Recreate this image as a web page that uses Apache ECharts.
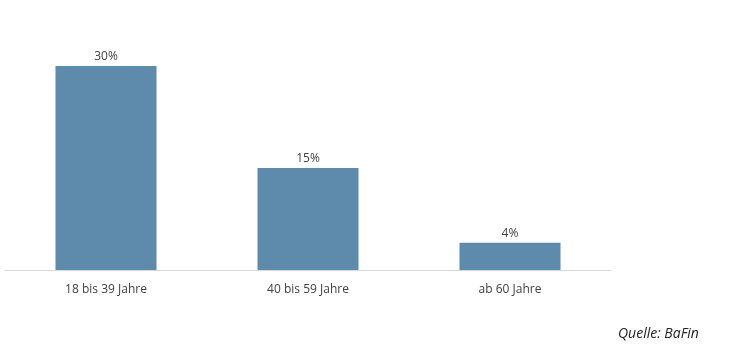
<!DOCTYPE html>
<html><head><meta charset="utf-8">
<script src="https://cdn.jsdelivr.net/npm/echarts@6/dist/echarts.min.js"></script>
<style>html,body{margin:0;padding:0;background:#fff}#c{width:742px;height:363px}</style>
</head><body><div id="c"></div>
<script>
const categories = ['18 bis 39 Jahre', '40 bis 59 Jahre', 'ab 60 Jahre'];
const values = [30, 15, 4];
const sourceText = 'Quelle: BaFin';

const chart = echarts.init(document.getElementById('c'), null, {renderer: 'canvas'});
chart.setOption({
  backgroundColor: '#ffffff',
  animation: false,
  grid: {left: 5, right: 131, top: 66, bottom: 93},
  xAxis: {
    type: 'category',
    data: categories,
    axisLine: {lineStyle: {color: '#d9d9d9', width: 1}},
    axisTick: {show: false},
    axisLabel: {color: '#404040', fontSize: 12, fontFamily: 'Open Sans', margin: 14}
  },
  yAxis: {
    type: 'value', min: 0, max: 30,
    show: false
  },
  series: [{
    type: 'bar',
    data: values,
    barWidth: 101,
    itemStyle: {color: '#5e8aab'},
    label: {
      show: true, position: 'top', distance: 3,
      formatter: p => p.value + '%',
      color: '#404040', fontSize: 12, fontFamily: 'Open Sans'
    }
  }],
  graphic: [{
    type: 'text', left: 618, top: 327,
    style: {text: sourceText, font: 'italic 14px "Open Sans"', fill: '#222222'}
  }]
});
</script></body></html>
